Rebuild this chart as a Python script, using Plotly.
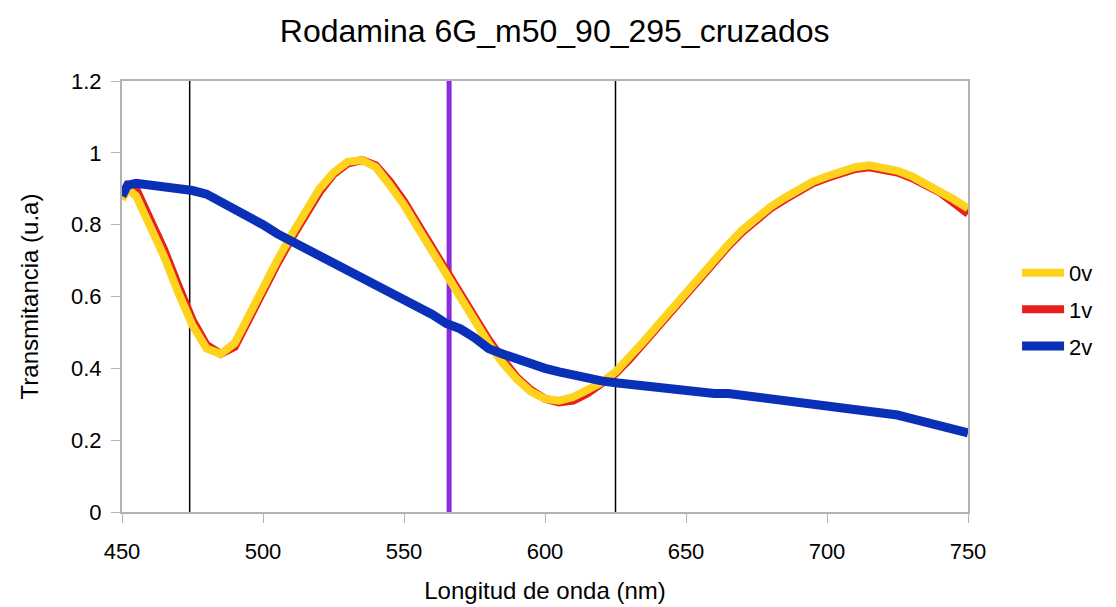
import plotly.graph_objects as go

wavelength = [450, 452, 455, 460, 465, 470, 475, 480, 485, 490, 495, 500, 505, 510, 515, 520,
              525, 530, 535, 540, 545, 550, 555, 560, 565, 570, 575, 580, 585, 590, 595, 600,
              605, 610, 615, 620, 625, 630, 635, 640, 645, 650, 655, 660, 665, 670, 675, 680,
              685, 690, 695, 700, 705, 710, 715, 720, 725, 730, 735, 740, 745, 750]

t_0v = [0.87, 0.90, 0.88, 0.80, 0.71, 0.61, 0.52, 0.455, 0.44, 0.47, 0.55, 0.62, 0.70, 0.77, 0.84, 0.90,
        0.945, 0.975, 0.98, 0.96, 0.91, 0.855, 0.79, 0.725, 0.66, 0.60, 0.53, 0.47, 0.415, 0.37, 0.335, 0.315,
        0.31, 0.32, 0.34, 0.36, 0.39, 0.43, 0.475, 0.52, 0.565, 0.615, 0.66, 0.705, 0.745, 0.785, 0.82, 0.85,
        0.875, 0.90, 0.92, 0.935, 0.95, 0.96, 0.965, 0.96, 0.95, 0.935, 0.915, 0.895, 0.87, 0.845]

t_1v = [0.88, 0.91, 0.90, 0.82, 0.73, 0.63, 0.535, 0.465, 0.44, 0.46, 0.54, 0.61, 0.69, 0.76, 0.83, 0.89,
        0.94, 0.97, 0.98, 0.965, 0.92, 0.865, 0.80, 0.735, 0.67, 0.61, 0.545, 0.48, 0.425, 0.375, 0.34, 0.315,
        0.305, 0.31, 0.33, 0.355, 0.385, 0.425, 0.47, 0.515, 0.56, 0.61, 0.655, 0.70, 0.74, 0.78, 0.815, 0.845,
        0.87, 0.895, 0.915, 0.93, 0.945, 0.955, 0.96, 0.955, 0.945, 0.93, 0.91, 0.89, 0.86, 0.83]

t_2v = [0.88, 0.91, 0.915, 0.91, 0.908, 0.903, 0.895, 0.885, 0.865, 0.84, 0.82, 0.80, 0.775, 0.755, 0.73, 0.71,
        0.69, 0.67, 0.65, 0.635, 0.615, 0.595, 0.575, 0.55, 0.525, 0.51, 0.485, 0.455, 0.44, 0.425, 0.41, 0.40,
        0.39, 0.38, 0.37, 0.365, 0.36, 0.355, 0.35, 0.345, 0.34, 0.335, 0.335, 0.33, 0.33, 0.325, 0.325, 0.32,
        0.315, 0.31, 0.305, 0.30, 0.295, 0.285, 0.28, 0.275, 0.27, 0.26, 0.25, 0.24, 0.23, 0.22]

marker_black = [474, 625]
marker_purple = [566]
y_span = [0, 1.2]

x_ticks = [450, 500, 550, 600, 650, 700, 750]
y_ticks = [0, 0.2, 0.4, 0.6, 0.8, 1.0, 1.2]
y_tick_labels = ["0", "0.2", "0.4", "0.6", "0.8", "1", "1.2"]

fig = go.Figure()

for v in marker_black:
    fig.add_trace(go.Scatter(x=[v, v], y=y_span, mode="lines",
                             line=dict(color="#000000", width=1.5),
                             showlegend=False, hoverinfo="skip"))
for v in marker_purple:
    fig.add_trace(go.Scatter(x=[v, v], y=y_span, mode="lines",
                             line=dict(color="#8a2be2", width=5),
                             showlegend=False, hoverinfo="skip"))

fig.add_trace(go.Scatter(x=wavelength, y=t_1v, mode="lines", name="1v",
                         line=dict(color="#e8201c", width=8), legendrank=2,
                         legendgroup="b"))
fig.add_trace(go.Scatter(x=wavelength, y=t_0v, mode="lines", name="0v",
                         line=dict(color="#ffd21e", width=8), legendrank=1,
                         legendgroup="a"))
fig.add_trace(go.Scatter(x=wavelength, y=t_2v, mode="lines", name="2v",
                         line=dict(color="#0b30b8", width=9), legendrank=3,
                         legendgroup="c"))

fig.update_layout(
    width=1116, height=607,
    margin=dict(l=122, r=148, t=81, b=95, autoexpand=False),
    paper_bgcolor="white", plot_bgcolor="white",
    font=dict(family="Liberation Sans, Arial, sans-serif", color="#000000", size=21),
    title=dict(text="Rodamina 6G_m50_90_295_cruzados", x=0.497, xanchor="center",
               y=0.95, yanchor="middle", font=dict(size=32)),
    showlegend=True,
    legend=dict(x=1.058, xanchor="left", y=0.47, yanchor="middle",
                traceorder="grouped", tracegroupgap=5, itemwidth=42,
                font=dict(size=22), bgcolor="rgba(0,0,0,0)"),
    xaxis=dict(range=[450, 750], tickvals=x_ticks, ticks="outside", ticklen=9,
               tickcolor="#b3b3b3", showline=True, linecolor="#b3b3b3", linewidth=2,
               mirror=True, showgrid=False, zeroline=False, ticklabelstandoff=10,
               automargin=False,
               title=dict(text="Longitud de onda (nm)", standoff=19, font=dict(size=24)),
               tickfont=dict(size=22)),
    yaxis=dict(range=[0, 1.2], tickvals=y_ticks, ticktext=y_tick_labels,
               ticks="outside", ticklen=9, tickcolor="#b3b3b3", ticklabelstandoff=5,
               showline=True, linecolor="#b3b3b3", linewidth=2, mirror=True,
               showgrid=False, zeroline=False, automargin=False,
               title=dict(text="Transmitancia (u.a)", standoff=26, font=dict(size=24)),
               tickfont=dict(size=22)),
)

fig.write_html("out.html")
